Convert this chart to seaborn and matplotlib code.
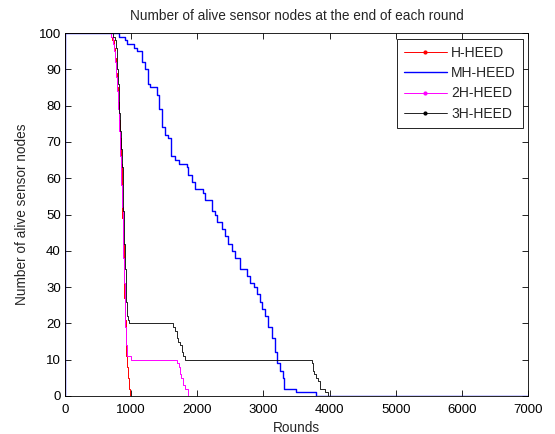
import numpy as np
import pandas as pd
import matplotlib
matplotlib.use("Agg")
import matplotlib.pyplot as plt
from matplotlib.lines import Line2D
import seaborn as sns

# ------------------------------------------
# Data (step points)
# ------------------------------------------

protocols = ["H-HEED", "MH-HEED", "2H-HEED", "3H-HEED"]

h_heed_rounds = [0, 1, 690, 715, 735, 750, 765, 780, 795, 810, 825, 840, 855,
                 865, 875, 885, 895, 905, 915, 925, 935, 950, 965, 985, 7000]
h_heed_alive = [0, 100, 99, 98, 96, 93, 89, 85, 81, 76, 71, 64, 56,
                49, 42, 35, 27, 21, 15, 11, 8, 5, 2, 0, 0]

mh_heed_rounds = [0, 1, 810, 905, 930, 1045, 1095, 1160, 1210, 1260, 1285, 1385,
                  1425, 1460, 1510, 1560, 1600, 1665, 1730, 1840, 1865, 1925,
                  1965, 2080, 2115, 2220, 2270, 2300, 2370, 2420, 2470, 2520,
                  2570, 2645, 2750, 2800, 2850, 2900, 2950, 2975, 3025, 3075,
                  3125, 3175, 3200, 3250, 3300, 3310, 3495, 3795, 7000]
mh_heed_alive = [0, 100, 99, 98, 97, 96, 95, 92, 90, 86, 85, 83,
                 79, 74, 72, 71, 66, 65, 64, 63, 61, 59,
                 57, 56, 54, 51, 50, 48, 46, 44, 42, 40,
                 38, 35, 33, 31, 30, 28, 26, 24, 22, 19,
                 16, 12, 9, 7, 5, 2, 1, 0, 0]

h2_heed_rounds = [0, 1, 700, 725, 745, 760, 775, 790, 805, 820, 835, 850, 860,
                  870, 880, 890, 900, 910, 920, 930, 995, 1700, 1720, 1740,
                  1760, 1790, 1820, 1855, 7000]
h2_heed_alive = [0, 100, 99, 97, 95, 92, 88, 84, 79, 73, 66, 58, 52,
                 45, 38, 31, 25, 19, 14, 11, 10, 9, 8, 6,
                 5, 3, 2, 0, 0]

h3_heed_rounds = [0, 1, 730, 750, 765, 780, 790, 800, 810, 820, 832, 845, 857,
                  870, 882, 890, 897, 905, 912, 920, 927, 935, 955, 965, 1640,
                  1665, 1690, 1705, 1740, 1765, 1790, 1810, 3740, 3750, 3760,
                  3795, 3830, 3850, 3860, 3930, 3980, 7000]
h3_heed_alive = [0, 100, 99, 98, 96, 94, 90, 86, 82, 78, 73, 68, 63,
                 57, 51, 46, 42, 39, 35, 31, 26, 22, 21, 20, 19,
                 18, 16, 15, 14, 12, 11, 10, 9, 7, 6,
                 5, 4, 3, 2, 1, 0, 0]

x_ticks = [0, 1000, 2000, 3000, 4000, 5000, 6000, 7000]
y_ticks = [0, 10, 20, 30, 40, 50, 60, 70, 80, 90, 100]

series = {
    "H-HEED": (h_heed_rounds, h_heed_alive),
    "MH-HEED": (mh_heed_rounds, mh_heed_alive),
    "2H-HEED": (h2_heed_rounds, h2_heed_alive),
    "3H-HEED": (h3_heed_rounds, h3_heed_alive),
}

colors = {"H-HEED": "#ff0000", "MH-HEED": "#0000ff",
          "2H-HEED": "#ff00ff", "3H-HEED": "#000000"}
widths = {"H-HEED": 0.7, "MH-HEED": 1.0, "2H-HEED": 0.7, "3H-HEED": 0.6}
markers = {"H-HEED": ".", "MH-HEED": None, "2H-HEED": ".", "3H-HEED": "."}

# ------------------------------------------
# Style
# ------------------------------------------

sns.set_style("ticks")
plt.rcParams["font.family"] = ["Liberation Sans", "DejaVu Sans"]
plt.rcParams["font.size"] = 9.5

fig = plt.figure(figsize=(5.55, 4.34), dpi=100)
ax = fig.add_axes([65 / 555, 1 - 396 / 434, 463 / 555, 363 / 434])

for name in protocols:
    rounds, alive = series[name]
    df = pd.DataFrame({"Rounds": rounds, "Alive": alive})
    sns.lineplot(data=df, x="Rounds", y="Alive", ax=ax,
                 color=colors[name], linewidth=widths[name],
                 drawstyle="steps-post", estimator=None, sort=False,
                 legend=False)

ax.set_xlim(0, 7000)
ax.set_ylim(0, 100)
ax.set_xticks(x_ticks)
ax.set_yticks(y_ticks)

ax.tick_params(axis="both", direction="in", length=4, width=0.6,
               top=True, right=True, labelsize=9.5, colors="black")
ax.tick_params(axis="x", pad=5.5)
ax.tick_params(axis="y", pad=3)

for spine in ax.spines.values():
    spine.set_visible(True)
    spine.set_linewidth(0.6)
    spine.set_color("black")

ax.set_title("Number of alive sensor nodes at the end of each round",
             fontsize=9.8, pad=9)
ax.set_xlabel("Rounds", fontsize=9.8, labelpad=4)
ax.set_ylabel("Number of alive sensor nodes", fontsize=9.8, labelpad=7)

# ------------------------------------------
# Legend
# ------------------------------------------

handles = []
for name in protocols:
    handles.append(Line2D([], [], color=colors[name], linewidth=widths[name],
                          marker=markers[name], markersize=4,
                          markerfacecolor=colors[name],
                          markeredgecolor=colors[name]))

leg = ax.legend(handles, protocols, loc="upper right",
                bbox_to_anchor=((522.7 - 65) / 463, (396 - 39) / 363),
                borderaxespad=0, frameon=True, fancybox=False,
                edgecolor="black", framealpha=1, handlelength=3.1,
                handletextpad=0.3, labelspacing=0.45, borderpad=0.5,
                numpoints=1, fontsize=10)
leg.get_frame().set_linewidth(0.6)

plt.savefig("out.png", dpi=100)
